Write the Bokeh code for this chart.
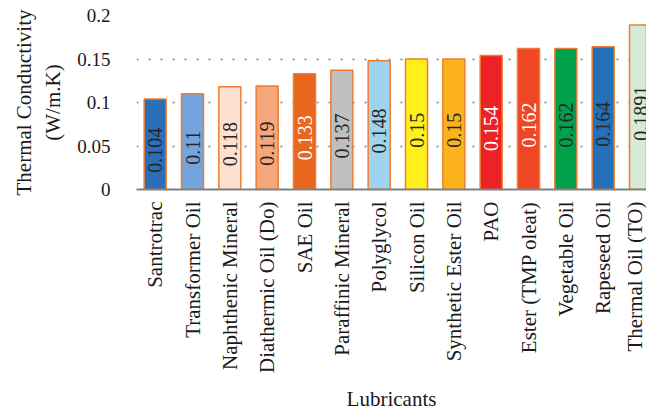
import numpy as np
from bokeh.plotting import figure
from bokeh.models import ColumnDataSource, Range1d, FixedTicker, CustomJSTickFormatter
from bokeh.core.properties import value
from bokeh.embed import file_html
from bokeh.resources import INLINE

# Thermal conductivity of lubricants (W/m.K)
lubricants = [
    "Santrotrac", "Transformer Oil", "Naphthenic Mineral", "Diathermic Oil (Do)",
    "SAE Oil", "Paraffinic Mineral", "Polyglycol", "Silicon Oil",
    "Synthetic Ester Oil", "PAO", "Ester (TMP oleat)", "Vegetable Oil",
    "Rapeseed Oil", "Thermal Oil (TO)",
]
conductivity = [0.104, 0.11, 0.118, 0.119, 0.133, 0.137, 0.148, 0.15,
                0.15, 0.154, 0.162, 0.162, 0.164, 0.1891]
value_labels = ["0.104", "0.11", "0.118", "0.119", "0.133", "0.137", "0.148",
                "0.15", "0.15", "0.154", "0.162", "0.162", "0.164", "0.1891"]
y_ticks = [0, 0.05, 0.1, 0.15, 0.2]

bar_colors = ["#2a6fb8", "#74a4db", "#fce0d0", "#f5a67b", "#e8671f", "#bfbfbf",
              "#9fd3ee", "#ffef1a", "#fbb21c", "#ec2227", "#ef4624", "#00a14b",
              "#2471ba", "#d6ebd6"]
label_colors = ["#262626", "#262626", "#262626", "#262626", "#ffffff", "#262626",
                "#262626", "#262626", "#262626", "#ffffff", "#ffffff", "#262626",
                "#262626", "#262626"]

SERIF = "Liberation Serif"

xs = [i + 0.5 for i in range(len(lubricants))]
src = ColumnDataSource(dict(
    x=xs,
    top=conductivity,
    mid=[v / 2 for v in conductivity],
    label=value_labels,
    fill=bar_colors,
    ink=label_colors,
))

p = figure(
    width=646, height=413,
    output_backend="svg", toolbar_location=None,
    x_range=Range1d(0, 13.66), y_range=Range1d(0, 0.2),
    min_border_left=136, min_border_right=0,
    min_border_top=15, min_border_bottom=223,
    outline_line_color=None,
    background_fill_color="white", border_fill_color="white",
)

p.vbar(x="x", top="top", bottom=0, width=0.59, source=src,
       fill_color="fill", line_color="#ed7d31", line_width=1.5)

p.text(x="x", y="mid", text="label", source=src, angle=np.pi / 2,
       text_align="center", text_baseline="middle", y_offset=6,
       text_color="ink", text_font=value(SERIF), text_font_size="20px")

# x axis: categories, reading bottom to top
p.xaxis.ticker = FixedTicker(ticks=xs)
p.xaxis.major_label_overrides = {x: name for x, name in zip(xs, lubricants)}
p.xaxis.major_label_orientation = np.pi / 2
p.xaxis.major_tick_line_color = None
p.xaxis.minor_tick_line_color = None
p.xaxis.major_tick_in = 0
p.xaxis.major_tick_out = 0
p.xaxis.major_label_standoff = 12
p.xaxis.axis_line_color = "#808080"
p.xaxis.axis_line_width = 2
p.xaxis.major_label_text_font = SERIF
p.xaxis.major_label_text_font_size = "21px"
p.xaxis.major_label_text_color = "#1a1a1a"
p.xaxis.axis_label = "Lubricants"
p.xaxis.axis_label_text_font = SERIF
p.xaxis.axis_label_text_font_size = "21px"
p.xaxis.axis_label_text_font_style = "normal"
p.xaxis.axis_label_text_color = "#1a1a1a"
p.xaxis.axis_label_standoff = 11

# y axis
p.yaxis.ticker = FixedTicker(ticks=y_ticks)
p.yaxis.formatter = CustomJSTickFormatter(code="return String(Math.round(tick * 100) / 100);")
p.yaxis.axis_line_color = None
p.yaxis.major_tick_line_color = None
p.yaxis.minor_tick_line_color = None
p.yaxis.major_tick_in = 0
p.yaxis.major_tick_out = 0
p.yaxis.major_label_standoff = 26
p.yaxis.major_label_text_font = SERIF
p.yaxis.major_label_text_font_size = "19px"
p.yaxis.major_label_text_color = "#1a1a1a"
p.yaxis.axis_label = "Thermal Conductivity\n(W/m.K)"
p.yaxis.axis_label_text_font = SERIF
p.yaxis.axis_label_text_font_size = "21px"
p.yaxis.axis_label_text_font_style = "normal"
p.yaxis.axis_label_text_color = "#1a1a1a"
p.yaxis.axis_label_standoff = 9

# dotted horizontal gridlines
p.xgrid.visible = False
p.ygrid.ticker = FixedTicker(ticks=y_ticks)
p.ygrid.grid_line_color = "#808080"
p.ygrid.grid_line_dash = "2 10"
p.ygrid.grid_line_width = 1.5

open("out.html", "w").write(file_html(p, INLINE))
